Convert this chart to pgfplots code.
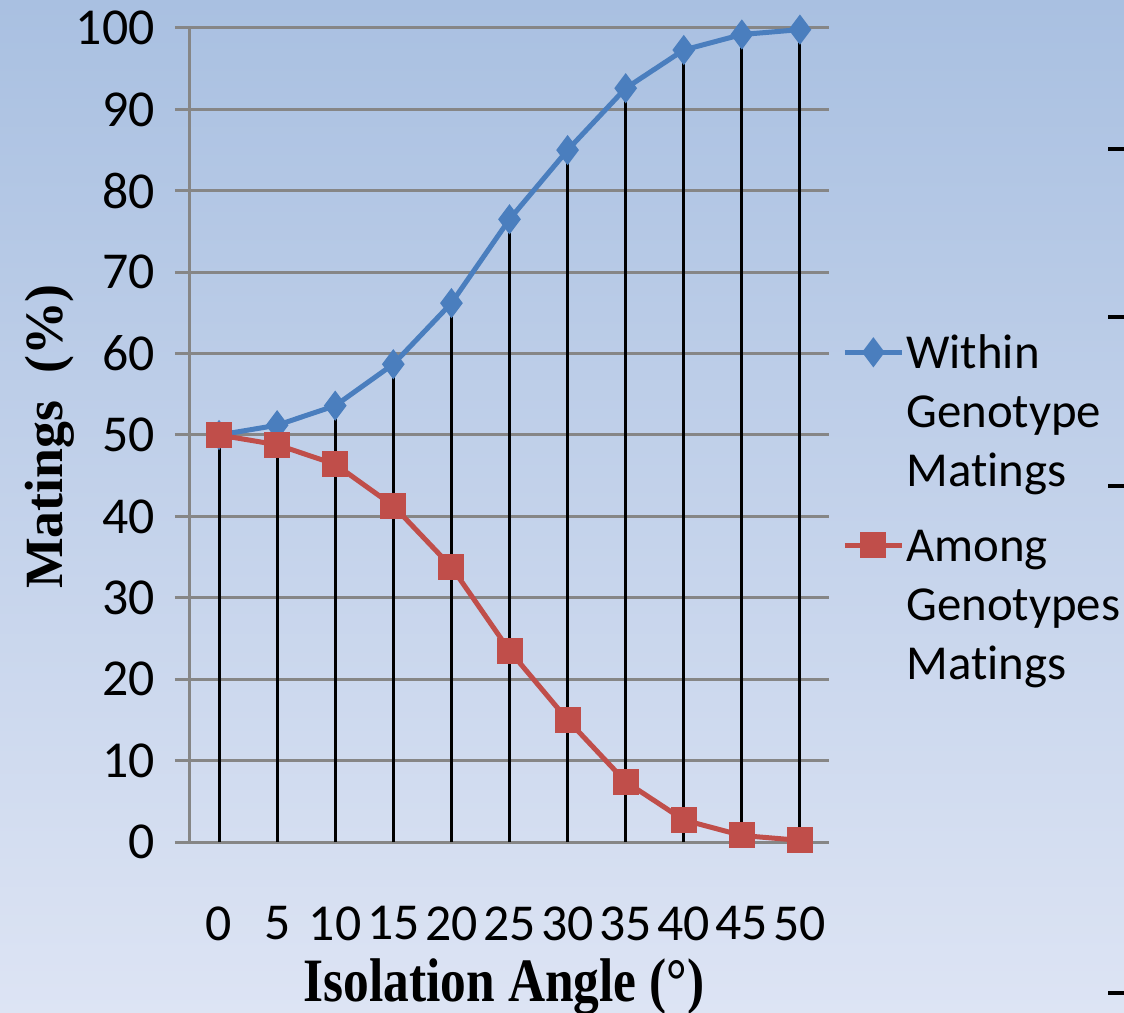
\documentclass[border=0pt]{standalone}
\usepackage{fontspec}
\setmainfont{Carlito}[Ligatures=CommonOff]
\newfontfamily\timesb{Liberation Serif}
\usepackage{pgfplots}
\usepackage{pgfplotstable}
\pgfplotsset{compat=1.18}
\definecolor{bgtop}{RGB}{169,192,225}
\definecolor{bgbot}{RGB}{221,228,244}
\definecolor{gridgray}{RGB}{134,134,134}
\definecolor{serblue}{RGB}{74,126,190}
\definecolor{serred}{RGB}{192,78,74}

\pgfplotstableread{
x within among
0 50 50
5 51.2 48.8
10 53.6 46.4
15 58.7 41.3
20 66.2 33.8
25 76.5 23.5
30 85.0 15.0
35 92.6 7.4
40 97.3 2.7
45 99.2 0.8
50 99.8 0.2
}\data

\begin{document}
\begin{tikzpicture}
\shade[top color=bgtop, bottom color=bgbot] (0,0) rectangle (562bp,506.5bp);
\begin{axis}[
  at={(95bp,85.5bp)}, anchor=south west,
  scale only axis, width=319.5bp, height=407bp,
  xmin=-2.5, xmax=52.5, ymin=0, ymax=100,
  xtick={0,5,...,50}, ytick={0,10,...,100},
  axis x line*=bottom, axis y line*=left,
  axis line style={gridgray, line width=1.5bp, -},
  xtick style={draw=none},
  ytick style={gridgray, line width=1.5bp},
  tick align=outside, major tick length=7.5bp,
  ymajorgrids, grid style={gridgray, line width=1.5bp},
  tick label style={font=\fontsize{26}{30}\selectfont, /pgf/number format/assume math mode=true},
  yticklabel style={inner sep=0pt, anchor=east, xshift=-10bp},
  xticklabel style={inner sep=0pt, anchor=north, yshift=-24.5bp},
  clip=false,
  legend image code/.code={\draw[#1, mark repeat=2, mark phase=2] plot coordinates {(0bp,0bp) (14.25bp,0bp) (28.5bp,0bp)};},
  legend style={at={(1.0203,0.6383)}, anchor=north west, draw=none, fill=none,
    font=\fontsize{24.5}{29.5}\selectfont, inner sep=0pt, row sep=0pt, column sep=1bp,
    nodes={inner sep=0pt, text height=22.75bp, text depth=6.75bp}},
  legend cell align=left,
]
\addplot[serblue, line width=2.5bp, mark=diamond*, mark size=5.5bp, mark options={solid}] table[x=x,y=within]{\data};
\addlegendentry{Within}
\addlegendimage{empty legend}
\addlegendentry{Genotype}
\addlegendimage{empty legend}
\addlegendentry[text depth=14.75bp]{Matings}
\addplot[serred, line width=2.5bp, mark=square*, mark size=5.25bp, mark options={solid}] table[x=x,y=among]{\data};
\addlegendentry{Among}
\addlegendimage{empty legend}
\addlegendentry{Genotypes}
\addlegendimage{empty legend}
\addlegendentry{Matings}
\addplot[ycomb, black, line width=1.5bp, mark=none, forget plot] table[x=x,y=within]{\data};
\end{axis}
\node[rotate=90, anchor=base, font=\timesb\bfseries\fontsize{27}{32}\selectfont] at (31bp,288.25bp) {Matings\ \ (\%)};
\node[anchor=base, yscale=1.2, font=\timesb\bfseries\fontsize{25.8}{30}\selectfont] at (252bp,6bp) {Isolation Angle (°)};
\foreach \yy in {432,348,263.5,10} {\draw[black, line width=2bp] (554bp,\yy bp) -- (562bp,\yy bp);}
\pgfresetboundingbox
\useasboundingbox (0,0) rectangle (562bp,506.5bp);
\end{tikzpicture}
\end{document}
